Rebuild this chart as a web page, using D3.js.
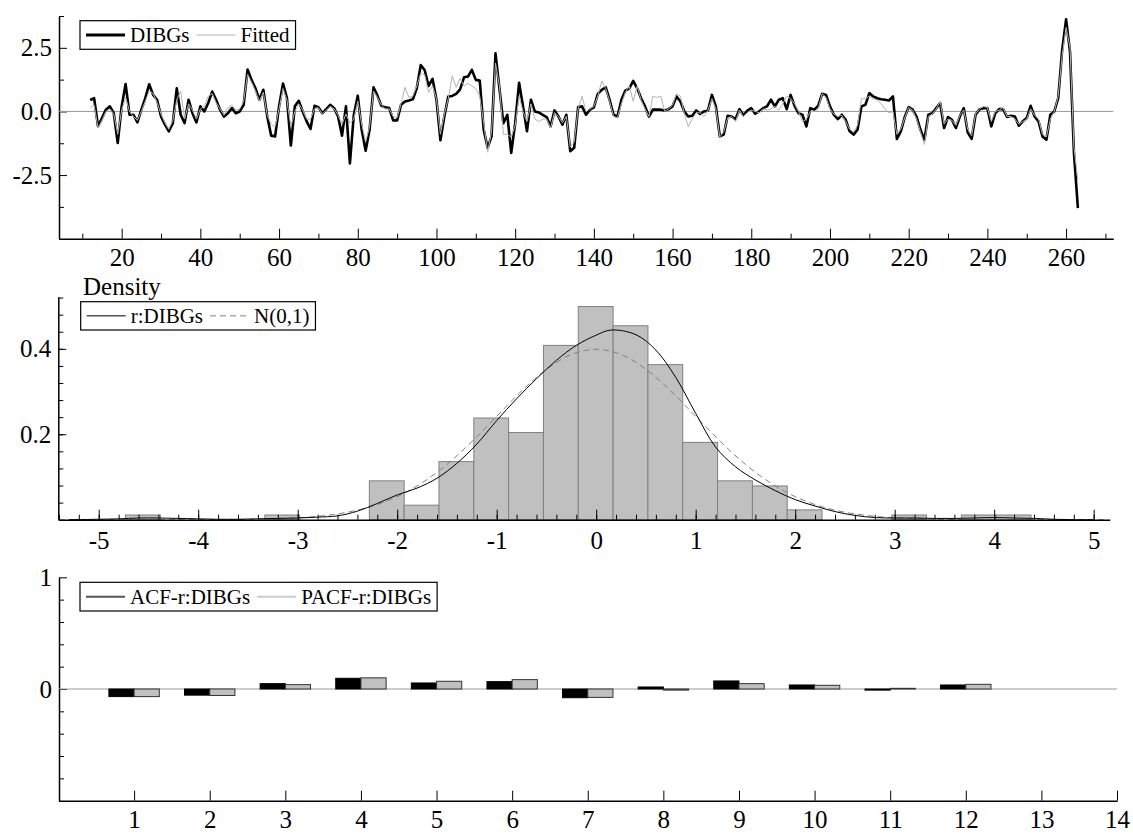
<!DOCTYPE html>
<html>
<head>
<meta charset="utf-8">
<script src="https://cdn.jsdelivr.net/npm/d3@7"></script>
<style>
    body { margin: 0; background: #fff; }
    svg { display: block; font-family: "Liberation Serif", "Times New Roman", serif; }
    .axis path, .axis line { stroke: #000; }
    .axis path { stroke-width: 1.5px; }
    .axis text { font-size: 25px; fill: #000; font-family: "Liberation Serif", "Times New Roman", serif; }
    .legend text { font-size: 21px; fill: #000; }
</style>
</head>
<body>
<svg id="chart" width="1133" height="834"></svg>
<script>

// ---- Data ----

// first period of the series
const startPeriod = 12;

const dibgs = [
    0.45, 0.52, -0.58, -0.26, 0.07, 0.2, -0.07, -1.24, 0.2, 1.08,
    -0.13, -0.13, -0.43, 0.07, 0.52, 1.07, 0.65, 0.46, -0.2, -0.52,
    -0.78, -0.46, 0.91, -0.13, -0.46, 0.46, -0.07, -0.43, 0.2, 0.0,
    0.33, 0.78, 0.46, 0.07, -0.2, -0.07, 0.13, -0.07, 0.0, 0.26,
    1.65, 1.24, 0.91, 0.46, 0.85, -0.2, -0.95, -0.98, 0.2, 1.1,
    0.52, -1.34, 0.2, 0.42, 0.0, -0.39, -0.69, 0.22, 0.17, -0.07,
    0.09, 0.26, 0.13, -0.2, -0.95, 0.2, -2.04, -0.13, 0.62, -0.72,
    -1.54, -0.72, 0.95, 0.62, 0.22, 0.16, 0.13, -0.35, -0.35, 0.26,
    0.39, 0.43, 0.48, 0.91, 1.82, 1.63, 1.0, 1.28, 0.46, -1.13,
    -0.2, 0.59, 0.61, 0.69, 0.87, 1.34, 1.37, 1.63, 1.24, 1.21,
    -0.72, -1.43, -0.98, 2.28, 0.91, -0.46, -0.13, -1.63, -0.46, 1.13,
    0.2, -0.78, 0.46, 0.0, -0.04, -0.13, -0.22, -0.59, 0.04, -0.2,
    -0.52, -0.13, -1.56, -1.43, 0.17, 0.2, -0.13, 0.07, 0.16, 0.69,
    0.85, 0.95, 0.46, -0.13, -0.2, 0.46, 0.82, 0.91, 1.2, 0.91,
    0.52, 0.2, -0.2, 0.07, 0.07, 0.07, 0.04, 0.09, 0.2, 0.59,
    0.39, 0.0, -0.2, -0.17, 0.04, -0.1, 0.0, 0.04, 0.65, 0.2,
    -0.98, -0.91, -0.17, -0.2, -0.3, 0.09, -0.15, 0.03, 0.13, -0.09,
    0.0, 0.13, 0.2, 0.46, 0.2, 0.46, 0.52, 0.09, 0.65, 0.22,
    -0.07, -0.13, -0.59, 0.13, 0.07, 0.22, 0.69, 0.65, 0.2, -0.13,
    -0.3, -0.13, -0.33, -0.78, -0.91, -0.72, 0.2, 0.26, 0.72, 0.59,
    0.52, 0.48, 0.46, 0.43, 0.59, -1.08, -0.78, -0.22, 0.17, 0.07,
    -0.2, -0.72, -1.11, -0.13, -0.07, 0.13, 0.33, -0.65, -0.22, -0.33,
    -0.65, -0.2, 0.13, -0.82, -1.08, -0.13, 0.09, 0.13, 0.13, -0.59,
    -0.07, 0.09, 0.09, -0.22, -0.17, -0.2, -0.56, -0.39, -0.26, 0.22,
    -0.2, -0.39, -0.98, -1.11, -0.13, 0.0, 0.52, 2.41, 3.62, 2.34,
    -1.63, -3.8
];

const fitted = [
    0.15, 0.25, -0.65, -0.35, 0.0, 0.1, -0.1, -0.9, 0.05, 0.55,
    0.0, -0.2, -0.35, 0.0, 0.4, 0.8, 0.7, 0.35, -0.1, -0.45,
    -0.7, -0.35, 0.45, 0.8, -0.3, 0.3, 0.05, -0.3, 0.1, 0.2,
    0.6, 0.7, 0.35, 0.1, -0.15, 0.15, 0.25, 0.05, 0.1, 0.4,
    1.45, 1.15, 0.8, 0.4, 0.75, -0.15, -0.5, -0.6, 0.1, 0.9,
    0.45, -0.6, 0.0, 0.3, 0.05, -0.3, -0.3, 0.1, 0.15, -0.1,
    0.05, 0.2, 0.1, -0.15, -0.5, -0.1, -0.45, -0.3, 0.4, -0.5,
    -1.2, -0.6, 0.8, 0.55, 0.25, 0.1, 0.1, -0.2, -0.25, 0.3,
    0.95, 0.55, 0.6, 1.0, 1.5, 1.45, 0.75, 1.0, 0.5, -0.9,
    -0.1, 0.5, 1.4, 0.95, 1.3, 1.0, 1.1, 1.0, 0.9, 0.6,
    -0.45, -1.6, -0.8, 1.9, 1.0, -0.9, -0.9, -1.0, -0.55, 0.6,
    0.0, -0.4, 0.3, -0.3, -0.4, -0.3, -0.3, -0.65, -0.05, -0.2,
    -0.45, -0.2, -1.4, -1.2, 0.1, 0.6, 0.0, 0.1, 0.2, 0.6,
    1.2, 0.9, 0.4, -0.2, -0.25, 0.3, 0.75, 1.0, 0.4, 1.0,
    0.45, 0.1, -0.2, 0.6, 0.55, 0.6, 0.0, 0.1, 0.25, 0.7,
    0.6, -0.1, -0.6, -0.3, -0.05, -0.05, -0.2, 0.05, 0.5, 0.1,
    -1.0, -0.8, -0.25, -0.2, -0.4, 0.05, -0.2, -0.05, 0.05, 0.0,
    -0.05, 0.1, 0.05, 0.1, 0.2, 0.05, 0.3, 0.6, 0.5, 0.3,
    0.0, -0.4, -0.3, 0.0, 0.0, 0.1, 0.7, 0.55, 0.1, -0.1,
    -0.2, -0.15, -0.4, -0.7, -0.8, -0.55, 0.5, 0.5, 0.6, 0.5,
    0.45, 0.3, 0.1, -0.05, 0.0, -0.9, -0.7, -0.25, 0.15, 0.05,
    -0.3, -0.8, -1.3, -0.2, -0.1, 0.1, 0.4, -0.5, -0.3, -0.35,
    -0.55, -0.15, 0.05, -0.7, -0.95, -0.1, 0.1, 0.2, 0.15, -0.4,
    0.0, 0.05, 0.15, -0.2, -0.2, -0.3, -0.5, -0.4, -0.3, 0.1,
    -0.15, -0.3, -0.9, -1.0, -0.3, 0.0, 0.6, 2.2, 3.3, 2.5,
    -1.4, -2.7
];

// histogram of r:DIBGs (left edges and densities)
const binWidth = 0.35;
const histLeft = [-4.73, -3.33, -2.28, -1.93, -1.58, -1.23, -0.88, -0.53, -0.18,
    0.17, 0.52, 0.87, 1.22, 1.57, 1.92, 2.97, 3.67, 4.02];
const histDensity = [0.011, 0.011, 0.091, 0.034, 0.136, 0.238, 0.204, 0.408, 0.499,
    0.454, 0.363, 0.181, 0.091, 0.079, 0.023, 0.011, 0.011, 0.011];

// estimated density of r:DIBGs
const kdeX = [-5.3, -5.0, -4.8, -4.6, -4.4, -4.2, -4.0, -3.8, -3.6, -3.4, -3.2, -3.0,
    -2.8, -2.6, -2.4, -2.2, -2.0, -1.8, -1.6, -1.4, -1.2, -1.0, -0.8, -0.6, -0.4,
    -0.2, 0.0, 0.15, 0.4, 0.6, 0.8, 1.0, 1.2, 1.4, 1.6, 1.8, 2.0, 2.2, 2.4, 2.6,
    2.8, 3.0, 3.2, 3.4, 3.6, 3.8, 4.0, 4.2, 4.4, 4.6, 4.8, 5.0];
const kdeY = [0.0, 0.001, 0.002, 0.004, 0.004, 0.003, 0.002, 0.001, 0.001, 0.002, 0.003, 0.004,
    0.006, 0.009, 0.02, 0.038, 0.058, 0.074, 0.097, 0.132, 0.177, 0.232, 0.283, 0.33, 0.373,
    0.408, 0.432, 0.444, 0.433, 0.397, 0.333, 0.249, 0.17, 0.124, 0.093, 0.068, 0.047, 0.032, 0.019, 0.01,
    0.005, 0.004, 0.004, 0.003, 0.003, 0.004, 0.005, 0.004, 0.003, 0.001, 0.0, 0.0];

// N(0,1) reference curve
const normX = [-5.4, -4.5, -4.0, -3.5, -3.0, -2.75, -2.5, -2.25, -2.0, -1.75, -1.5, -1.25, -1.0,
    -0.75, -0.5, -0.25, 0.0, 0.25, 0.5, 0.75, 1.0, 1.25, 1.5, 1.75, 2.0, 2.25, 2.5,
    2.75, 3.0, 3.5, 4.0, 4.5, 5.15];
const normY = [0, 0, 0.0001, 0.0009, 0.0044, 0.0091, 0.0175, 0.0317, 0.054, 0.0863, 0.1295, 0.1826, 0.242,
    0.3011, 0.3521, 0.3867, 0.3989, 0.3867, 0.3521, 0.3011, 0.242, 0.1826, 0.1295, 0.0863, 0.054, 0.0317, 0.0175,
    0.0091, 0.0044, 0.0009, 0.0001, 0, 0];

// correlogram
const lags = [1, 2, 3, 4, 5, 6, 7, 8, 9, 10, 11, 12];
const acf = [-0.068, -0.055, 0.048, 0.096, 0.054, 0.066, -0.078, 0.018, 0.072, 0.036, -0.01, 0.036];
const pacf = [-0.068, -0.058, 0.039, 0.1, 0.069, 0.084, -0.075, -0.01, 0.048, 0.033, 0.006, 0.042];

// tick labels
const topXTicks = [20, 40, 60, 80, 100, 120, 140, 160, 180, 200, 220, 240, 260];
const topYTicks = [-2.5, 0, 2.5];
const midXTicks = [-5, -4, -3, -2, -1, 0, 1, 2, 3, 4, 5];
const midYTicks = [0.2, 0.4];
const botXTicks = [1, 2, 3, 4, 5, 6, 7, 8, 9, 10, 11, 12, 13, 14];
const botYTicks = [0, 1];


let svg = d3.select("#chart");
const serif = "Liberation Serif, Times New Roman, serif";

// hyphen minus, like the original labels
function plainNumber(digits) {
    return function (d) { return d.toFixed(digits); };
}

// Draws a left axis with inward ticks plus unlabelled minor ticks
function drawYAxis(x, scale, majors, minors, format) {
    svg.append("g")
        .attr("class", "axis")
        .attr("transform", "translate(" + x + ",0)")
        .call(d3.axisLeft(scale).tickValues(minors).tickSize(-5).tickSizeOuter(0).tickFormat(""))
        .select(".domain").remove();

    svg.append("g")
        .attr("class", "axis")
        .attr("transform", "translate(" + x + ",0)")
        .call(d3.axisLeft(scale).tickValues(majors).tickSize(-8).tickSizeOuter(0)
            .tickPadding(7).tickFormat(format))
        .attr("font-family", serif)
        .attr("font-size", 25);
}

// Draws a bottom axis with inward ticks plus unlabelled minor ticks
function drawXAxis(y, scale, majors, minors, format, padding) {
    if (minors.length) {
        svg.append("g")
            .attr("class", "axis")
            .attr("transform", "translate(0," + y + ")")
            .call(d3.axisBottom(scale).tickValues(minors).tickSize(-5).tickSizeOuter(0).tickFormat(""))
            .select(".domain").remove();
    }
    svg.append("g")
        .attr("class", "axis")
        .attr("transform", "translate(0," + y + ")")
        .call(d3.axisBottom(scale).tickValues(majors).tickSize(-10).tickSizeOuter(0)
            .tickPadding(padding).tickFormat(format))
        .attr("font-family", serif)
        .attr("font-size", 25);
}

// Legend box: items are {label, draw(g, x0, x1, y)}
function drawLegend(x, y, h, items) {
    let g = svg.append("g").attr("class", "legend");
    let box = g.append("rect")
        .attr("x", x).attr("y", y)
        .attr("height", h)
        .attr("fill", "#fff")
        .attr("stroke", "#000")
        .attr("stroke-width", 1.2);
    let cy = y + h / 2;
    let cursor = x + 6;
    items.forEach(function (item, i) {
        if (i > 0) cursor += 7;
        item.draw(g, cursor, cursor + 39, cy);
        let text = g.append("text")
            .attr("x", cursor + 44)
            .attr("y", cy + 7)
            .text(item.label);
        cursor += 44 + text.node().getComputedTextLength();
    });
    box.attr("width", cursor + 6 - x);
}

function legendLine(color, width, dash) {
    return function (g, x0, x1, y) {
        g.append("line")
            .attr("x1", x0).attr("x2", x1)
            .attr("y1", y).attr("y2", y)
            .attr("stroke", color)
            .attr("stroke-width", width)
            .attr("stroke-dasharray", dash || null);
    };
}


// ---- Panel 1: series and fitted values ----
function drawSeriesPanel() {
    let x = d3.scaleLinear().domain([4, 272]).range([58.7, 1113.3]);
    let y = d3.scaleLinear().domain([-5, 3.75]).range([238.7, 16]);

    drawYAxis(59, y, topYTicks, [-3.75, -1.25, 1.25, 3.75], plainNumber(1));
    drawXAxis(238.7, x, topXTicks, d3.range(10, 271, 20), d3.format("d"), 10);

    // zero reference line
    svg.append("line")
        .attr("x1", x.range()[0]).attr("x2", x.range()[1])
        .attr("y1", y(0)).attr("y2", y(0))
        .attr("stroke", "#999")
        .attr("stroke-width", 1);

    let line = function (values) {
        return d3.line()
            .x(function (d, i) { return x(startPeriod + i); })
            .y(function (d) { return y(d); })(values);
    };

    svg.append("path")
        .attr("d", line(dibgs))
        .attr("fill", "none")
        .attr("stroke", "#000")
        .attr("stroke-width", 2.6)
        .attr("stroke-linejoin", "round");

    svg.append("path")
        .attr("d", line(fitted))
        .attr("fill", "none")
        .attr("stroke", "#b4b4b4")
        .attr("stroke-width", 1);

    drawLegend(80, 20.7, 28.6, [
        {label: "DIBGs", draw: legendLine("#000", 3)},
        {label: "Fitted", draw: legendLine("#b4b4b4", 1)}
    ]);
}


// ---- Panel 2: density of scaled residuals ----
function drawDensityPanel() {
    let x = d3.scaleLinear().domain([-5.406, 5.161]).range([58.3, 1109.7]);
    let y = d3.scaleLinear().domain([0, 0.522]).range([519.7, 296.7]);

    svg.append("g")
        .selectAll("rect")
        .data(histLeft)
        .enter()
        .append("rect")
        .attr("x", function (d) { return x(d); })
        .attr("width", function (d) { return x(d + binWidth) - x(d); })
        .attr("y", function (d, i) { return y(histDensity[i]); })
        .attr("height", function (d, i) { return y(0) - y(histDensity[i]); })
        .attr("fill", "#c0c0c0")
        .attr("stroke", "#808080")
        .attr("stroke-width", 1);

    svg.append("path")
        .datum(normX)
        .attr("d", d3.line()
            .x(function (d) { return x(d); })
            .y(function (d, i) { return y(normY[i]); })
            .curve(d3.curveCatmullRom))
        .attr("fill", "none")
        .attr("stroke", "#808080")
        .attr("stroke-width", 1)
        .attr("stroke-dasharray", "6,4");

    svg.append("path")
        .datum(kdeX)
        .attr("d", d3.line()
            .x(function (d) { return x(d); })
            .y(function (d, i) { return y(kdeY[i]); })
            .curve(d3.curveCatmullRom))
        .attr("fill", "none")
        .attr("stroke", "#000")
        .attr("stroke-width", 1);

    drawYAxis(58.3, y, midYTicks, d3.range(0.04, 0.53, 0.04), plainNumber(1));
    drawXAxis(519.7, x, midXTicks, d3.range(-5.4, 5.1, 0.2), d3.format("d"), 12);
    svg.selectAll(".axis text").text(function () { return this.textContent.replace("\u2212", "-"); });

    svg.append("text")
        .attr("x", 83)
        .attr("y", 294.5)
        .attr("font-size", 25)
        .text("Density");

    drawLegend(80.7, 301.7, 28.3, [
        {label: "r:DIBGs", draw: legendLine("#000", 1)},
        {label: "N(0,1)", draw: legendLine("#808080", 1, "6,4")}
    ]);
}


// ---- Panel 3: ACF and PACF ----
function drawCorrelogramPanel() {
    let x = d3.scaleLinear().domain([0, 14]).range([58.5, 1117]);
    let y = d3.scaleLinear().domain([-1, 1]).range([800.7, 577.3]);
    let third = 1 / 3;

    drawYAxis(59, y, botYTicks, [-0.8, -0.6, -0.4, -0.2, 0.2, 0.4, 0.6, 0.8], d3.format("d"));
    drawXAxis(800.7, x, botXTicks, [], d3.format("d"), 10);

    svg.append("line")
        .attr("x1", 59).attr("x2", x(14))
        .attr("y1", y(0)).attr("y2", y(0))
        .attr("stroke", "#999")
        .attr("stroke-width", 1);

    let bars = [
        {values: acf, offset: -third, fill: "#000", stroke: "#000"},
        {values: pacf, offset: 0, fill: "#c0c0c0", stroke: "#333"}
    ];

    bars.forEach(function (series) {
        svg.append("g")
            .selectAll("rect")
            .data(lags)
            .enter()
            .append("rect")
            .attr("x", function (d) { return x(d + series.offset); })
            .attr("width", function (d) { return x(d + series.offset + third) - x(d + series.offset); })
            .attr("y", function (d, i) { return y(Math.max(0, series.values[i])); })
            .attr("height", function (d, i) { return Math.abs(y(series.values[i]) - y(0)); })
            .attr("fill", series.fill)
            .attr("stroke", series.stroke)
            .attr("stroke-width", 1);
    });

    drawLegend(80, 582.3, 28.7, [
        {label: "ACF-r:DIBGs", draw: legendLine("#555", 2)},
        {label: "PACF-r:DIBGs", draw: legendLine("#ccc", 2)}
    ]);
}

drawSeriesPanel();
drawDensityPanel();
drawCorrelogramPanel();

</script>
</body>
</html>
